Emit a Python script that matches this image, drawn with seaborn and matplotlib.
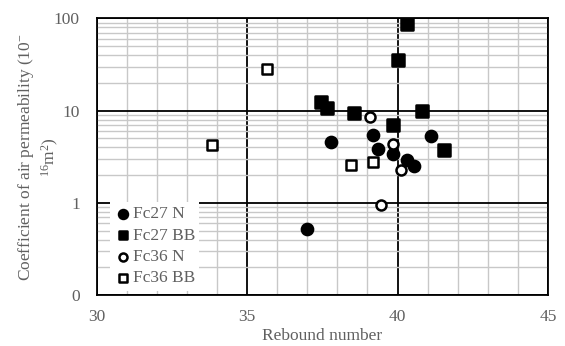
import numpy as np
import pandas as pd
import matplotlib
matplotlib.use("Agg")
import matplotlib.pyplot as plt
import seaborn as sns
from matplotlib.ticker import FixedLocator, FuncFormatter, LogLocator

# Data
fc27n_x = [37.0, 37.8, 39.2, 39.35, 39.85, 40.3, 40.55, 41.1]
fc27n_y = [0.52, 4.55, 5.5, 3.8, 3.35, 2.9, 2.5, 5.3]
fc27bb_x = [40.3, 40.0, 37.45, 37.65, 38.55, 39.85, 40.8, 41.55]
fc27bb_y = [86, 35, 12.5, 10.7, 9.5, 6.9, 10.0, 3.75]
fc36n_x = [39.1, 39.85, 40.1, 39.45]
fc36n_y = [8.6, 4.3, 2.25, 0.94]
fc36bb_x = [35.65, 33.85, 38.45, 39.2]
fc36bb_y = [28.5, 4.2, 2.6, 2.8]

series = ["Fc27 N", "Fc27 BB", "Fc36 N", "Fc36 BB"]
xs = [fc27n_x, fc27bb_x, fc36n_x, fc36bb_x]
ys = [fc27n_y, fc27bb_y, fc36n_y, fc36bb_y]

sns.set_style("white")
plt.rcParams["font.family"] = ["Liberation Serif", "DejaVu Serif"]
plt.rcParams["mathtext.fontset"] = "custom"
plt.rcParams["mathtext.rm"] = "Liberation Serif"
plt.rcParams["mathtext.it"] = "Liberation Serif:italic"

text_col = "#606060"
fs = 12.5

fig = plt.figure(figsize=(5.65, 3.46), dpi=100)
ax = fig.add_axes([0.171, 0.147, 0.799, 0.800])
ax.set_yscale("log")
ax.set_xlim(30, 45)
ax.set_ylim(0.1, 100)

# grid
ax.xaxis.set_minor_locator(FixedLocator(np.arange(30, 46, 1)))
ax.yaxis.set_minor_locator(LogLocator(base=10, subs=np.arange(2, 10)))
ax.grid(True, which="minor", color="#c8c8c8", lw=1.0, zorder=0)
ax.grid(True, which="major", color="black", lw=1.3, zorder=0)
ax.set_axisbelow(True)

styles = [
    dict(marker="o", facecolor="black", s=65),
    dict(marker="s", facecolor="black", s=65),
    dict(marker="o", facecolor="white", s=52),
    dict(marker="s", facecolor="white", s=50),
]
for name, x, y, st in zip(series, xs, ys, styles):
    df = pd.DataFrame({"x": x, "y": y})
    sns.scatterplot(data=df, x="x", y="y", ax=ax, marker=st["marker"],
                    color=st["facecolor"], edgecolor="black", linewidth=1.8,
                    s=st["s"], label=name, zorder=3)

ax.set_xticks([30, 35, 40, 45])
ax.set_yticks([0.1, 1, 10, 100])
ax.yaxis.set_major_formatter(FuncFormatter(lambda v, p: "0" if v < 0.5 else f"{v:g}"))
ax.tick_params(which="both", length=0, labelsize=fs, colors=text_col, pad=12)
ax.tick_params(axis="x", pad=10)

for sp in ax.spines.values():
    sp.set_color("black")
    sp.set_linewidth(1.3)

ax.set_xlabel("Rebound number", fontsize=fs, color=text_col, labelpad=2)
ax.set_ylabel("Coefficient of air permeability (10$^{\\mathrm{-}}$\n$^{\\mathrm{16}}$m$^{\\mathrm{2}}$)",
              fontsize=fs, color=text_col, linespacing=1.3)
ax.yaxis.set_label_coords(-0.078, 0.5)

leg = ax.legend(loc="lower left", bbox_to_anchor=(0.02, 0.0), frameon=True,
                fontsize=fs, handletextpad=0.05, borderpad=0.25, markerscale=0.8,
                labelspacing=0.3, handlelength=1.0, borderaxespad=0.25)
leg.get_frame().set_facecolor("white")
leg.get_frame().set_edgecolor("none")
leg.get_frame().set_alpha(1)
leg.get_frame().set_boxstyle("square", pad=0)
for t in leg.get_texts():
    t.set_color(text_col)

fig.savefig("out.png", dpi=100)
